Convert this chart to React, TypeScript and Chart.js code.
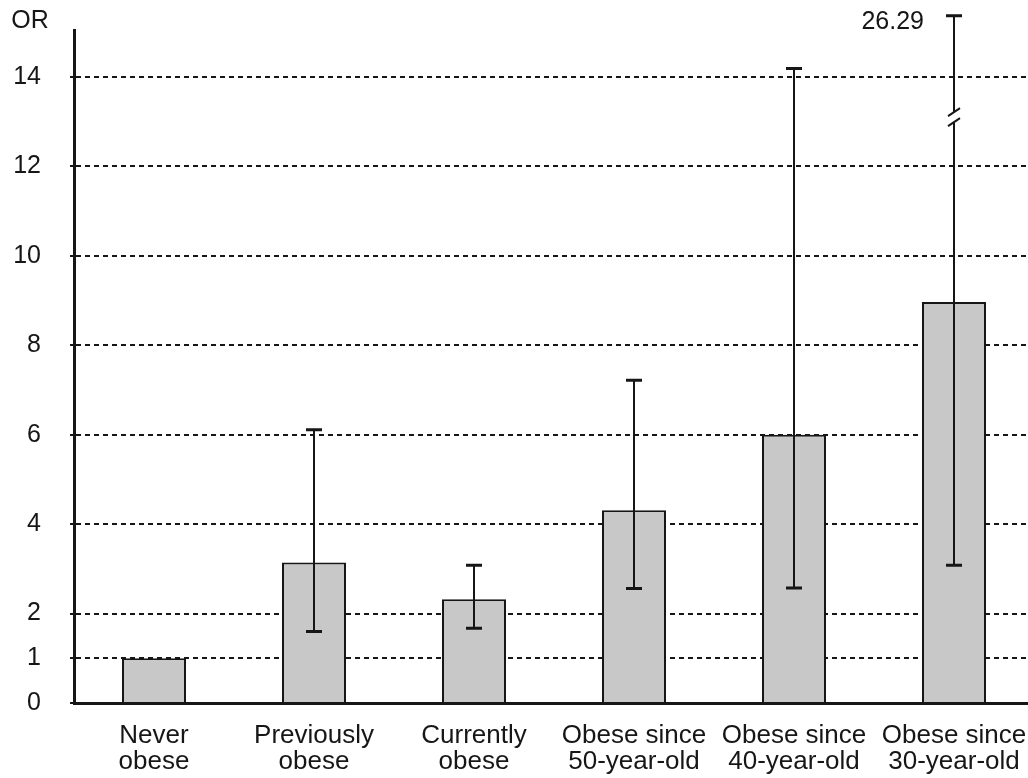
import React, { useEffect, useRef } from "react";
import { Chart, registerables } from "chart.js";

Chart.register(...registerables);

const categories: string[][] = [
  ["Never", "obese"],
  ["Previously", "obese"],
  ["Currently", "obese"],
  ["Obese since", "50-year-old"],
  ["Obese since", "40-year-old"],
  ["Obese since", "30-year-old"],
];
const oddsRatios = [1.0, 3.14, 2.32, 4.31, 6.0, 8.97];
const ciLower: (number | null)[] = [null, 1.6, 1.67, 2.56, 2.57, 3.08];
const ciUpper: (number | null)[] = [null, 6.11, 3.08, 7.22, 14.19, 26.29];
const yTickValues = [0, 1, 2, 4, 6, 8, 10, 12, 14];
const yAxisMax = 15.05;
const brokenCiDrawnTo = 15.37;
const axisBreakAt = 13.1;
const yAxisTitle = "OR";

const FONT = "'Liberation Sans', Arial, sans-serif";
const INK = "#161616";

const errorBarPlugin = {
  id: "errorBars",
  afterDatasetsDraw(chart: any) {
    const ctx = chart.ctx;
    const ys = chart.scales.y;
    const meta = chart.getDatasetMeta(0);
    ctx.save();
    ctx.strokeStyle = INK;
    ctx.lineCap = "butt";
    meta.data.forEach((bar: any, i: number) => {
      const lo = ciLower[i];
      const hi = ciUpper[i];
      if (lo == null || hi == null) return;
      const broken = hi > yAxisMax;
      const x = bar.x;
      const yTop = ys.getPixelForValue(broken ? brokenCiDrawnTo : hi);
      const yBot = ys.getPixelForValue(lo);
      ctx.lineWidth = 2;
      ctx.beginPath();
      ctx.moveTo(x, yBot);
      ctx.lineTo(x, yTop);
      ctx.stroke();
      ctx.lineWidth = 3;
      const half = 8;
      ctx.beginPath();
      ctx.moveTo(x - half, yTop);
      ctx.lineTo(x + half, yTop);
      ctx.moveTo(x - half, yBot);
      ctx.lineTo(x + half, yBot);
      ctx.stroke();
      if (broken) {
        const yb = ys.getPixelForValue(axisBreakAt);
        ctx.fillStyle = "#ffffff";
        ctx.fillRect(x - 3, yb - 5, 6, 10);
        ctx.lineWidth = 2;
        ctx.beginPath();
        [-5, 5].forEach((off) => {
          ctx.moveTo(x - 6, yb + off + 4);
          ctx.lineTo(x + 6, yb + off - 4);
        });
        ctx.stroke();
        ctx.fillStyle = INK;
        ctx.font = `25px ${FONT}`;
        ctx.textAlign = "right";
        ctx.textBaseline = "middle";
        ctx.fillText(String(hi), x - 30, yTop + 6);
      }
    });
    ctx.restore();
  },
  afterDraw(chart: any) {
    const ctx = chart.ctx;
    const area = chart.chartArea;
    ctx.save();
    ctx.fillStyle = INK;
    ctx.font = `25px ${FONT}`;
    ctx.textAlign = "center";
    ctx.textBaseline = "middle";
    ctx.fillText(yAxisTitle, area.left - 44, area.top - 9);
    ctx.restore();
  },
};

export default function App() {
  const canvasRef = useRef<HTMLCanvasElement | null>(null);

  useEffect(() => {
    document.body.style.margin = "0";
    const canvas = canvasRef.current;
    if (!canvas) return;
    const chart = new Chart(canvas, {
      type: "bar",
      data: {
        labels: categories,
        datasets: [
          {
            data: oddsRatios,
            backgroundColor: "#c8c8c8",
            borderColor: INK,
            borderWidth: 2,
            borderSkipped: "bottom",
            categoryPercentage: 1,
            barPercentage: 0.4,
          },
        ],
      },
      options: {
        responsive: false,
        animation: false,
        devicePixelRatio: 1,
        layout: { padding: { top: 30, left: 0, right: 0, bottom: 0 } },
        plugins: {
          legend: { display: false },
          tooltip: { enabled: false },
        },
        scales: {
          x: {
            grid: { display: false, drawTicks: false },
            border: { display: true, color: INK, width: 3 },
            ticks: {
              color: INK,
              padding: 20,
              font: { family: FONT, size: 26, lineHeight: 1.0 },
              maxRotation: 0,
              autoSkip: false,
            },
            afterFit: (scale: any) => {
              scale.height = 75;
              scale.paddingLeft = 0;
              scale.paddingRight = 0;
            },
          },
          y: {
            min: 0,
            max: yAxisMax,
            afterBuildTicks: (scale: any) => {
              scale.ticks = yTickValues.map((v) => ({ value: v }));
            },
            afterFit: (scale: any) => {
              scale.width = 74;
              scale.paddingTop = 0;
              scale.paddingBottom = 0;
            },
            grid: {
              color: (c: any) => (c.tick && c.tick.value === 0 ? "rgba(0,0,0,0)" : INK),
              lineWidth: 2,
              drawTicks: true,
              tickLength: 4,
              tickColor: INK,
              tickWidth: 2,
              tickBorderDash: [],
            },
            border: { display: true, color: INK, width: 3, dash: [5, 4] },
            ticks: {
              color: INK,
              padding: 29,
              font: { family: FONT, size: 25 },
              callback: (v: any) => String(v),
            },
          },
        },
      },
      plugins: [errorBarPlugin],
    });
    return () => chart.destroy();
  }, []);

  return (
    <div style={{ width: 1028, height: 778, overflow: "hidden", background: "#fff" }}>
      <canvas ref={canvasRef} width={1034} height={778} style={{ display: "block", width: 1034, height: 778 }} />
    </div>
  );
}
